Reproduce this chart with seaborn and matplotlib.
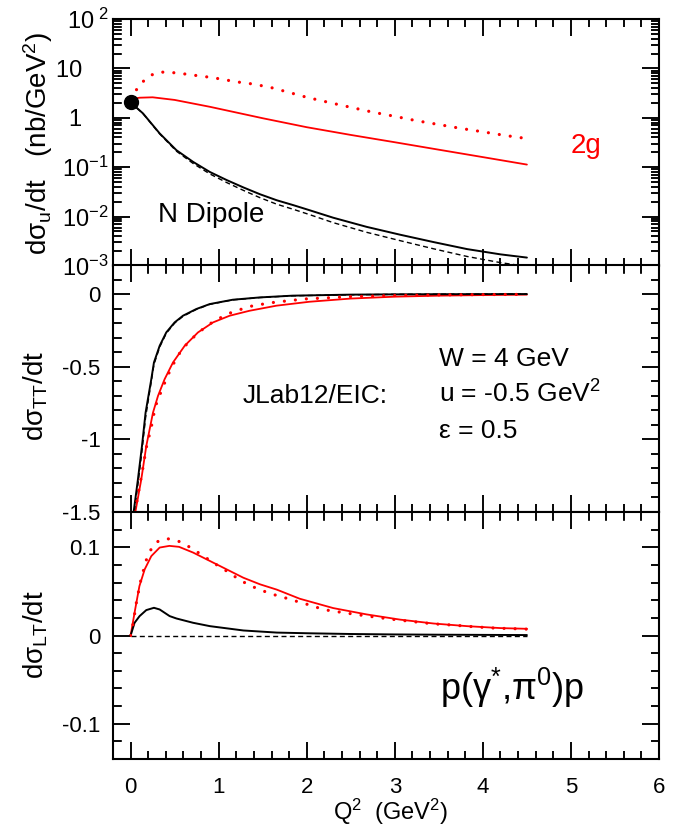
import matplotlib
matplotlib.use("Agg")
import matplotlib.pyplot as plt
import seaborn as sns
from matplotlib.collections import LineCollection
from matplotlib.ticker import MultipleLocator, FixedLocator, FixedFormatter, LogLocator, NullFormatter

# ---------------- data ----------------
# Panel 1: d sigma_u / dt (log scale)
q_u_red = [0, 0.1, 0.25, 0.5, 0.9, 1.5, 2.0, 2.5, 3.0, 3.5, 4.0, 4.5]
u_red = [2.36, 2.55, 2.6, 2.3, 1.67, 0.98, 0.645, 0.45, 0.32, 0.226, 0.16, 0.113]

q_u_red_dot = [0, 0.1, 0.2, 0.3, 0.4, 0.55, 0.7, 0.85, 1.0, 1.2, 1.4, 1.6, 1.8, 2.0,
               2.25, 2.5, 2.75, 3.0, 3.25, 3.5, 3.75, 4.0, 4.25, 4.5]
u_red_dot = [2.4, 4.6, 6.8, 8.3, 8.45, 8.0, 7.35, 6.8, 6.2, 5.35, 4.8, 4.07, 3.26, 2.6,
             2.05, 1.63, 1.30, 1.07, 0.87, 0.73, 0.61, 0.52, 0.44, 0.38]

q_u_blk = [0, 0.14, 0.33, 0.52, 0.71, 0.90, 1.09, 1.28, 1.47, 1.66, 1.85, 2.03,
           2.30, 2.68, 3.06, 3.44, 3.82, 4.20, 4.5]
u_blk = [2.05, 1.23, 0.483, 0.221, 0.128, 0.080, 0.055, 0.039, 0.0283, 0.0214, 0.0170,
         0.0135, 0.0095, 0.0062, 0.0043, 0.00305, 0.0022, 0.00172, 0.00148]
u_blk_dash = [2.05, 1.22, 0.472, 0.211, 0.119, 0.073, 0.049, 0.034, 0.0241, 0.0178, 0.0140,
              0.0110, 0.00755, 0.00481, 0.00326, 0.00223, 0.00156, 0.00117, 0.00098]

# Panel 2: d sigma_TT / dt
q_tt_blk = [0.03, 0.083, 0.129, 0.17, 0.235, 0.265, 0.33, 0.405, 0.5, 0.595, 0.746,
            0.898, 1.16, 1.47, 1.84, 2.5, 3.0, 3.5, 4.5]
tt_blk = [-1.52, -1.276, -1.046, -0.816, -0.586, -0.471, -0.356, -0.264, -0.195, -0.149,
          -0.103, -0.069, -0.039, -0.023, -0.011, -0.004, -0.002, -0.001, 0.0]
tt_blk_dash = [-1.55, -1.31, -1.08, -0.85, -0.60, -0.485, -0.365, -0.27, -0.20, -0.153,
               -0.106, -0.071, -0.040, -0.024, -0.012, -0.005, -0.002, -0.001, 0.0]

q_tt_red = [0.057, 0.121, 0.178, 0.254, 0.311, 0.386, 0.481, 0.614, 0.765, 0.936, 1.125,
            1.35, 1.656, 2.03, 2.5, 3.0, 3.5, 4.0, 4.5]
tt_red = [-1.49, -1.276, -1.046, -0.816, -0.701, -0.586, -0.471, -0.356, -0.264, -0.195,
          -0.149, -0.115, -0.080, -0.053, -0.031, -0.018, -0.011, -0.007, -0.004]

q_tt_red_dot = [0.05, 0.095, 0.14, 0.178, 0.235, 0.28, 0.367, 0.462, 0.583, 0.76, 0.95,
                1.16, 1.39, 1.63, 1.97, 2.5, 3.0, 3.5, 4.0, 4.5]
tt_red_dot = [-1.50, -1.345, -1.195, -1.057, -0.915, -0.775, -0.639, -0.506, -0.379, -0.269,
              -0.184, -0.122, -0.080, -0.057, -0.034, -0.018, -0.010, -0.006, -0.004, -0.002]

# Panel 3: d sigma_LT / dt
q_lt_blk = [0, 0.045, 0.102, 0.178, 0.265, 0.33, 0.443, 0.52, 0.71, 0.9, 1.28, 1.66,
            2.03, 2.5, 3.0, 3.5, 4.0, 4.5]
lt_blk = [0, 0.0144, 0.022, 0.0288, 0.0314, 0.0295, 0.022, 0.0193, 0.0144, 0.0106, 0.0057,
          0.0033, 0.0025, 0.0017, 0.0012, 0.0009, 0.0007, 0.0005]
q_lt_blk_dash = [0, 4.5]
lt_blk_dash = [0, 0]

q_lt_red = [0, 0.045, 0.1, 0.16, 0.235, 0.33, 0.44, 0.55, 0.71, 0.9, 1.09, 1.28, 1.47,
            1.66, 1.92, 2.30, 2.68, 3.06, 3.44, 3.82, 4.2, 4.5]
lt_red = [0, 0.026, 0.056, 0.075, 0.090, 0.0997, 0.1016, 0.1005, 0.094, 0.0845, 0.075,
          0.0655, 0.058, 0.052, 0.0417, 0.0311, 0.0239, 0.018, 0.0136, 0.0106, 0.0084, 0.0076]

q_lt_red_dot = [0, 0.03, 0.068, 0.114, 0.174, 0.22, 0.295, 0.40, 0.52, 0.625, 0.727, 0.83,
                0.925, 1.03, 1.13, 1.23, 1.33, 1.44, 1.56, 1.67, 1.79, 1.90, 2.01, 2.13,
                2.25, 2.48, 2.72, 2.96, 3.19, 3.43, 3.67, 3.91, 4.15, 4.39, 4.5]
lt_red_dot = [0, 0.0144, 0.039, 0.0617, 0.0845, 0.0958, 0.106, 0.110, 0.108, 0.103, 0.0966,
              0.090, 0.0833, 0.0769, 0.0705, 0.0636, 0.058, 0.053, 0.0485, 0.045, 0.0417,
              0.0383, 0.0352, 0.0314, 0.0284, 0.025, 0.0216, 0.0185, 0.0159, 0.0133, 0.0117,
              0.0098, 0.0083, 0.0076, 0.0072]

# point at Q2 = 0
q_point = [0.0]
u_point = [2.05]

log_ticks = [1e-3, 1e-2, 1e-1, 1, 10, 100]
log_labels = [r"$10^{-3}$", r"$10^{-2}$", r"$10^{-1}$", "1    ", "10    ", r"$10^{\ 2}$"]

# ---------------- style ----------------
sns.set_theme(style="ticks")
rc = plt.rcParams
rc["font.family"] = ["Liberation Sans", "DejaVu Sans"]
rc["mathtext.fontset"] = "custom"
rc["mathtext.rm"] = "Liberation Sans"
rc["mathtext.it"] = "Liberation Sans:italic"
rc["mathtext.bf"] = "Liberation Sans:bold"
rc["mathtext.default"] = "regular"
rc["axes.unicode_minus"] = False

RED = "#ff0000"
K = "black"
DOT = (0, (0.01, 3.45))
DASH = (0, (3.6, 2.4))

fig = plt.figure(figsize=(6.94, 8.31), dpi=100)
L, Wd = 113 / 694, 546 / 694
H = 247 / 831
ax1 = fig.add_axes([L, 1 - 266 / 831, Wd, H])
ax2 = fig.add_axes([L, 1 - 512 / 831, Wd, H])
ax3 = fig.add_axes([L, 1 - 759 / 831, Wd, H])


def style(ax):
    ax.tick_params(which="both", direction="in", top=True, right=True, width=1.1,
                   labelsize=16, pad=9, color=K, labelcolor=K)
    ax.tick_params(which="major", length=12)
    ax.tick_params(which="minor", length=6)
    ax.xaxis.set_major_locator(MultipleLocator(1))
    ax.xaxis.set_minor_locator(MultipleLocator(0.2))
    ax.set_xlim(-0.2, 6)
    for s in ax.spines.values():
        s.set_linewidth(1.5)
        s.set_color(K)


def draw_ticks(ax):
    """Inward tick marks on all four sides, at the axis' own tick locations."""
    bb = ax.get_position()
    wpx = bb.width * fig.get_figwidth() * fig.dpi
    hpx = bb.height * fig.get_figheight() * fig.dpi
    x0, x1 = ax.get_xlim()
    y0, y1 = sorted(ax.get_ylim())
    for locs, lpx in ((ax.xaxis.get_majorticklocs(), 17), (ax.xaxis.get_minorticklocs(), 8.5)):
        f = lpx / hpx
        segs = []
        for x in locs:
            if x0 - 1e-9 <= x <= x1 + 1e-9:
                segs += [[(x, 0), (x, f)], [(x, 1), (x, 1 - f)]]
        ax.add_collection(LineCollection(segs, colors=K, linewidths=1.1, zorder=5,
                                         transform=ax.get_xaxis_transform(), clip_on=False),
                          autolim=False)
    for locs, lpx in ((ax.yaxis.get_majorticklocs(), 17), (ax.yaxis.get_minorticklocs(), 8.5)):
        f = lpx / wpx
        segs = []
        for y in locs:
            if y0 * (1 - 1e-9) - 1e-12 <= y <= y1 * (1 + 1e-9) + 1e-12:
                segs += [[(0, y), (f, y)], [(1, y), (1 - f, y)]]
        ax.add_collection(LineCollection(segs, colors=K, linewidths=1.1, zorder=5,
                                         transform=ax.get_yaxis_transform(), clip_on=False),
                          autolim=False)


def red_dots(ax, x, y):
    sns.lineplot(x=x, y=y, ax=ax, color=RED, lw=2.3, linestyle=DOT,
                 dash_capstyle="round", zorder=3)


# ---- panel 1 ----
sns.lineplot(x=q_u_red, y=u_red, ax=ax1, color=RED, lw=1.3)
red_dots(ax1, q_u_red_dot, u_red_dot)
sns.lineplot(x=q_u_blk, y=u_blk, ax=ax1, color=K, lw=1.4)
sns.lineplot(x=q_u_blk, y=u_blk_dash, ax=ax1, color=K, lw=1.0, linestyle=DASH)
ax1.set_yscale("log")
ax1.set_ylim(1e-3, 1e2)
style(ax1)
ax1.plot(q_point, u_point, "o", color=K, ms=10, zorder=6, clip_on=False)
ax1.yaxis.set_major_locator(FixedLocator(log_ticks))
ax1.yaxis.set_major_formatter(FixedFormatter(log_labels))
ax1.yaxis.set_minor_locator(LogLocator(base=10, subs=range(2, 10), numticks=20))
ax1.yaxis.set_minor_formatter(NullFormatter())
ax1.tick_params(axis="y", which="major", labelsize=17, pad=3)
ax1.tick_params(axis="x", labelbottom=False)
ax1.text(0.31, 0.0078, "N Dipole", fontsize=20, color=K, ha="left", va="baseline")
ax1.text(5.0, 0.19, "2g", fontsize=20, color=RED, ha="left", va="baseline")

# ---- panel 2 ----
sns.lineplot(x=q_tt_red, y=tt_red, ax=ax2, color=RED, lw=1.3)
red_dots(ax2, q_tt_red_dot, tt_red_dot)
sns.lineplot(x=q_tt_blk, y=tt_blk, ax=ax2, color=K, lw=1.4)
sns.lineplot(x=q_tt_blk, y=tt_blk_dash, ax=ax2, color=K, lw=1.0, linestyle=DASH)
ax2.set_ylim(-1.5, 0.2)
style(ax2)
ax2.yaxis.set_major_locator(FixedLocator([-1.5, -1, -0.5, 0]))
ax2.yaxis.set_major_formatter(FixedFormatter(["-1.5", "-1", "-0.5", "0"]))
ax2.yaxis.set_minor_locator(MultipleLocator(0.1))
ax2.tick_params(axis="x", labelbottom=False)
ax2.text(1.276, -0.747, "JLab12/EIC:", fontsize=19, color=K, ha="left", va="baseline")
ax2.text(3.503, -0.494, "W = 4 GeV", fontsize=19, color=K, ha="left", va="baseline")
ax2.text(3.503, -0.747, "u = -0.5 GeV$^2$", fontsize=19, color=K, ha="left", va="baseline")
ax2.text(3.503, -0.988, "ε = 0.5", fontsize=19, color=K, ha="left", va="baseline")

# ---- panel 3 ----
sns.lineplot(x=q_lt_red, y=lt_red, ax=ax3, color=RED, lw=1.3)
red_dots(ax3, q_lt_red_dot, lt_red_dot)
sns.lineplot(x=q_lt_blk, y=lt_blk, ax=ax3, color=K, lw=1.4)
sns.lineplot(x=q_lt_blk_dash, y=lt_blk_dash, ax=ax3, color=K, lw=1.0, linestyle=DASH)
ax3.set_ylim(-0.14, 0.14)
style(ax3)
ax3.yaxis.set_major_locator(FixedLocator([-0.1, 0, 0.1]))
ax3.yaxis.set_major_formatter(FixedFormatter(["-0.1", "0", "0.1"]))
ax3.yaxis.set_minor_locator(MultipleLocator(0.02))
ax3.tick_params(axis="x", pad=13)
ax3.text(3.51, -0.0727, r"p($\gamma^{*}$,$\pi^{0}$)p", fontsize=26, color=K,
         ha="left", va="baseline")

for ax in (ax1, ax2, ax3):
    ax.set_xlabel("")
    ax.set_ylabel("")
    draw_ticks(ax)

# ---- axis titles ----
fig.text(38 / 694, 1 - 143 / 831, "dσ$_u$/dt   (nb/GeV$^2$)", rotation=90,
         fontsize=20, color=K, ha="center", va="center")
fig.text(36 / 694, 1 - 396 / 831, "dσ$_{TT}$/dt", rotation=90,
         fontsize=20, color=K, ha="center", va="center")
fig.text(36 / 694, 1 - 635 / 831, "dσ$_{LT}$/dt", rotation=90,
         fontsize=20, color=K, ha="center", va="center")
fig.text(391 / 694, 1 - 820 / 831, "Q$^2$  (GeV$^2$)", fontsize=17, color=K,
         ha="center", va="baseline")

fig.savefig("out.png", dpi=100)
